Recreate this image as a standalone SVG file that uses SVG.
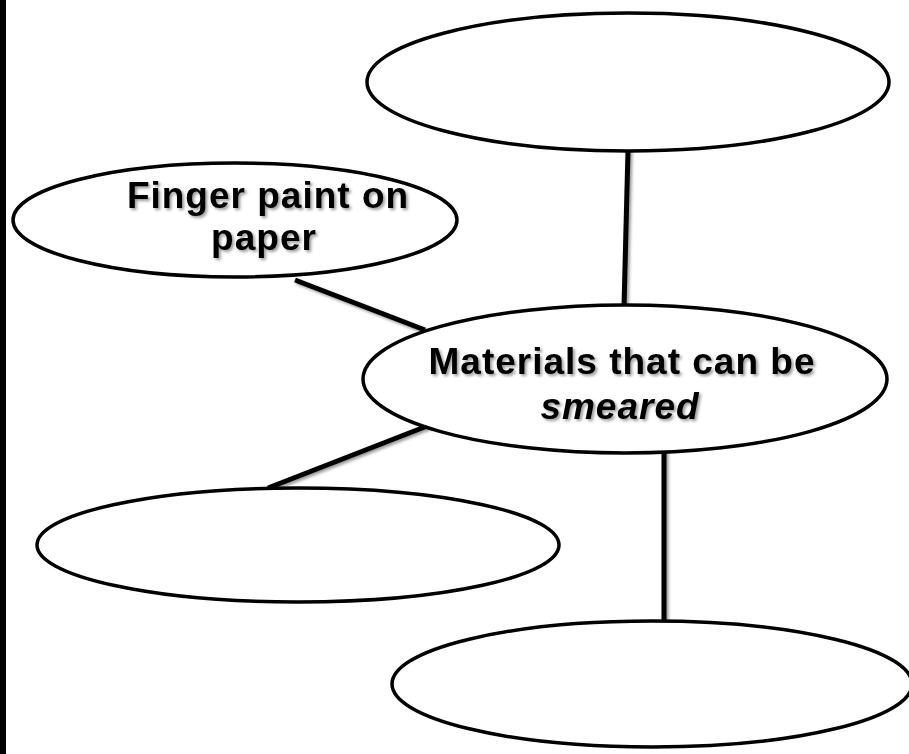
<svg xmlns="http://www.w3.org/2000/svg" width="909" height="754" viewBox="0 0 909 754">
<defs>
<filter id="sh" x="-10%" y="-10%" width="130%" height="140%">
<feDropShadow dx="2" dy="2" stdDeviation="1.5" flood-color="#000" flood-opacity="0.4"/>
</filter>
</defs>
<style>
.node ellipse{fill:#fff;stroke:#000;stroke-width:3.5}
.conn line{stroke:#000;stroke-width:5;stroke-linecap:butt}
.lbl{font-family:"Liberation Sans",Arial,sans-serif;font-weight:bold;font-size:37px;letter-spacing:1px;fill:#000;text-anchor:middle}
</style>
<rect x="0" y="0" width="909" height="754" fill="#fff"/>
<rect x="0" y="0" width="6" height="754" fill="#000"/>
<g id="connectors" class="conn" filter="url(#sh)">
<line x1="628" y1="150" x2="624" y2="307"/>
<line x1="295" y1="280" x2="425" y2="330"/>
<line x1="440" y1="421" x2="268" y2="488"/>
<line x1="664" y1="448" x2="664" y2="621"/>
</g>
<g id="node-top" class="node">
<ellipse cx="628" cy="82" rx="261" ry="69"/>
</g>
<g id="node-finger" class="node">
<ellipse cx="235" cy="220" rx="222" ry="57"/>
<text class="lbl" x="268" y="208" filter="url(#sh)">Finger paint on</text>
<text class="lbl" x="264" y="250" filter="url(#sh)">paper</text>
</g>
<g id="node-center" class="node">
<ellipse cx="625" cy="379" rx="262" ry="74"/>
<text class="lbl" x="622" y="374" filter="url(#sh)">Materials that can be</text>
<text class="lbl" x="620" y="419" font-style="italic" filter="url(#sh)">smeared</text>
</g>
<g id="node-lowleft" class="node">
<ellipse cx="298" cy="545" rx="261" ry="57"/>
</g>
<g id="node-lowright" class="node">
<ellipse cx="652" cy="684" rx="260" ry="63"/>
</g>
</svg>
